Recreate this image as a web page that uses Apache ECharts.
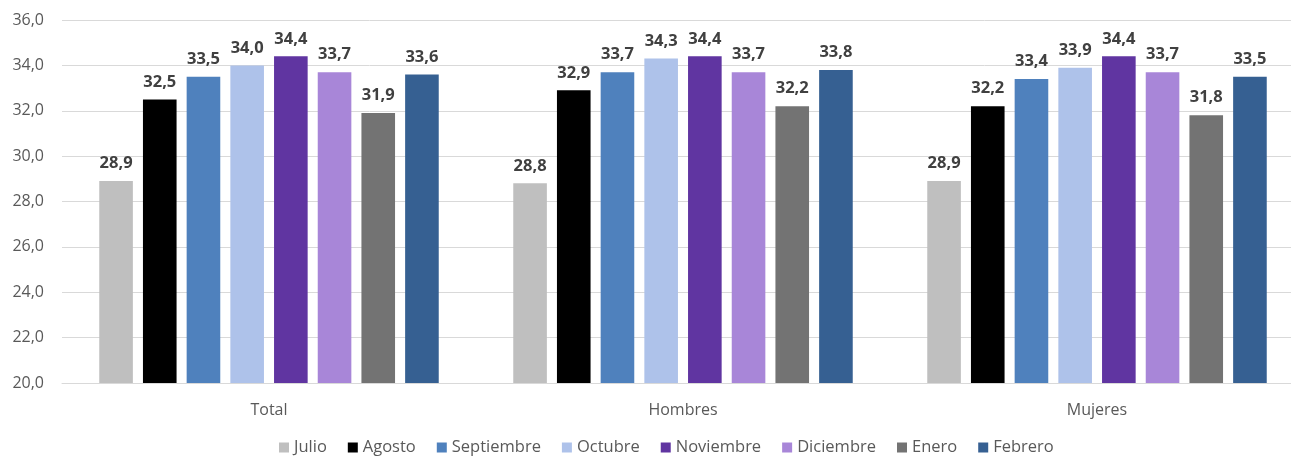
<!DOCTYPE html>
<html>
<head>
<meta charset="utf-8">
<script src="https://cdn.jsdelivr.net/npm/echarts@6/dist/echarts.min.js"></script>
<style>html,body{margin:0;padding:0;background:#fff}#c{width:1291px;height:457px}</style>
</head>
<body>
<div id="c"></div>
<script>
const categories = ['Total', 'Hombres', 'Mujeres'];
const seriesNames = ['Julio', 'Agosto', 'Septiembre', 'Octubre', 'Noviembre', 'Diciembre', 'Enero', 'Febrero'];
const julio = [28.9, 28.8, 28.9];
const agosto = [32.5, 32.9, 32.2];
const septiembre = [33.5, 33.7, 33.4];
const octubre = [34.0, 34.3, 33.9];
const noviembre = [34.4, 34.4, 34.4];
const diciembre = [33.7, 33.7, 33.7];
const enero = [31.9, 32.2, 31.8];
const febrero = [33.6, 33.8, 33.5];
const yTicks = [20, 22, 24, 26, 28, 30, 32, 34, 36];

const values = [julio, agosto, septiembre, octubre, noviembre, diciembre, enero, febrero];
const colors = ['#BFBFBF', '#000000', '#4F81BD', '#AEC2EA', '#6035A1', '#A886D8', '#737373', '#366092'];
const fmt = v => v.toFixed(1).replace('.', ',');
const font = '"Open Sans", "Noto Sans", sans-serif';

const chart = echarts.init(document.getElementById('c'));
chart.setOption({
  animation: false,
  textStyle: { fontFamily: font },
  grid: { left: 62, top: 20, right: -13, bottom: 74, containLabel: false, outerBoundsMode: 'none' },
  legend: {
    top: 434,
    left: 274,
    itemWidth: 10,
    itemHeight: 10,
    itemGap: 21,
    icon: 'rect',
    textStyle: { color: '#595959', fontSize: 16.5, fontFamily: font },
    data: seriesNames
  },
  xAxis: {
    type: 'category',
    data: categories,
    axisLine: { lineStyle: { color: '#D9D9D9', width: 1 } },
    axisTick: { show: false },
    axisLabel: { color: '#595959', fontSize: 16, margin: 19, fontFamily: font }
  },
  yAxis: {
    type: 'value',
    min: yTicks[0],
    max: yTicks[yTicks.length - 1],
    interval: 2,
    axisLine: { show: false },
    axisTick: { show: false },
    splitLine: { lineStyle: { color: '#D9D9D9', width: 1 } },
    axisLabel: { color: '#595959', fontSize: 16, margin: 18, fontFamily: font, formatter: v => fmt(v) }
  },
  series: seriesNames.map((name, i) => ({
    name: name,
    type: 'bar',
    data: values[i],
    barGap: '30%',
    barCategoryGap: '18%',
    itemStyle: { color: colors[i] },
    label: {
      show: true,
      position: 'top',
      distance: 9,
      color: '#404040',
      fontWeight: 'bold',
      fontSize: 16.5,
      fontFamily: font,
      formatter: p => fmt(p.value)
    }
  }))
});
</script>
</body>
</html>
